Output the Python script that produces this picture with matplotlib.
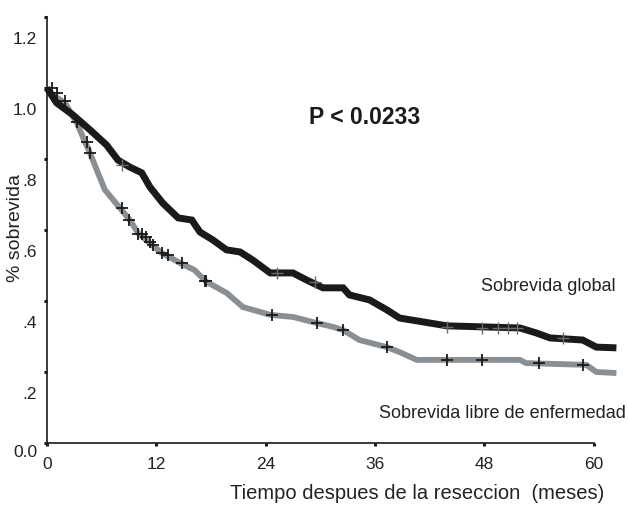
import matplotlib
matplotlib.use("Agg")
import matplotlib.pyplot as plt
import matplotlib.transforms as mtransforms

plt.rcParams["font.family"] = ["Liberation Sans", "DejaVu Sans"]

# --- datos (meses, fraccion de sobrevida) ---
global_t = [0, 1.06, 2.85, 4.72, 6.55, 7.79, 9.1, 10.4, 11.3, 12.7, 14.4, 15.9, 16.8,
            18.2, 19.7, 21.2, 22.6, 24.5, 27.0, 28.5, 30.3, 32.5, 33.2, 35.4, 37.3,
            38.7, 42.0, 43.9, 51.9, 53.7, 55.2, 58.8, 60.3, 62.5]
global_s = [1.0, 0.958, 0.924, 0.882, 0.839, 0.797, 0.777, 0.761, 0.721, 0.676, 0.634,
            0.628, 0.594, 0.572, 0.544, 0.538, 0.515, 0.479, 0.479, 0.459, 0.437,
            0.437, 0.417, 0.403, 0.375, 0.352, 0.338, 0.330, 0.324, 0.310, 0.296,
            0.290, 0.270, 0.268]

libre_t = [0, 0.66, 1.97, 3.29, 4.17, 4.72, 5.59, 6.36, 8.0, 9.1, 9.98, 11.5, 12.6,
           14.6, 16.2, 17.5, 19.7, 21.5, 24.5, 27.0, 29.6, 31.4, 32.5, 34.3, 37.3,
           38.7, 40.6, 51.9, 52.6, 59.2, 60.3, 62.5]
libre_s = [1.0, 0.98, 0.958, 0.901, 0.848, 0.817, 0.761, 0.713, 0.662, 0.628, 0.592,
           0.558, 0.535, 0.507, 0.487, 0.454, 0.423, 0.383, 0.361, 0.355, 0.338,
           0.327, 0.318, 0.290, 0.270, 0.256, 0.234, 0.234, 0.225, 0.220, 0.200,
           0.197]

# casos censurados (+)
cens_libre_t = [0.55, 1.1, 2.0, 3.3, 4.4, 4.7, 8.2, 9.0, 10.0, 10.4, 10.9, 11.3, 11.6,
                12.6, 13.3, 14.8, 17.3, 17.5, 24.7, 29.6, 32.5, 37.3, 43.9, 47.8,
                54.0, 58.8]
cens_libre_s = [1.0, 0.986, 0.963, 0.904, 0.848, 0.817, 0.662, 0.628, 0.589, 0.589,
                0.580, 0.566, 0.558, 0.535, 0.530, 0.507, 0.456, 0.456, 0.361, 0.338,
                0.318, 0.270, 0.234, 0.234, 0.225, 0.220]
cens_global_t = [8.2, 25.2, 29.4, 43.9, 47.8, 49.5, 50.6, 51.6, 56.6]
cens_global_s = [0.783, 0.479, 0.454, 0.327, 0.324, 0.324, 0.324, 0.324, 0.296]

x_ticks = [0, 12, 24, 36, 48, 60]
y_ticks = [0.0, 0.2, 0.4, 0.6, 0.8, 1.0, 1.2]
y_labels = ["0.0", ".2", ".4", ".6", ".8", "1.0", "1.2"]

GRIS = "#8a8f94"
NEGRO = "#1a1a1a"

fig = plt.figure(figsize=(6.28, 5.05), dpi=100)
ax = fig.add_axes([0.0748, 0.1228, 0.914, 0.8436])

ax.plot(libre_t, libre_s, color=GRIS, lw=4.2, solid_capstyle="butt",
        solid_joinstyle="miter", clip_on=False, zorder=2)
ax.plot(global_t, global_s, color=NEGRO, lw=5.0, solid_capstyle="butt",
        solid_joinstyle="miter", clip_on=False, zorder=3)
ax.plot(cens_libre_t, cens_libre_s, ls="none", marker="+", ms=8, mew=1.3,
        color=NEGRO, clip_on=False, zorder=4)
ax.plot(cens_global_t, cens_global_s, ls="none", marker="+", ms=8, mew=1.0,
        color="#6a6a6a", clip_on=False, zorder=4)

ax.set_xlim(0, 63)
ax.set_ylim(0, 1.2)
for s in ("top", "right"):
    ax.spines[s].set_visible(False)
ax.spines["bottom"].set_bounds(0, 60)
ax.spines["left"].set_bounds(0, 1.2)
for s in ("bottom", "left"):
    ax.spines[s].set_linewidth(1.2)
    ax.spines[s].set_color(NEGRO)

ax.set_xticks(x_ticks)
ax.set_xticklabels([str(v) for v in x_ticks])
ax.set_yticks(y_ticks)
ax.set_yticklabels(y_labels)
ax.tick_params(axis="both", direction="out", length=2, width=2.2, colors=NEGRO,
               labelsize=12.5, labelcolor="#222222")
ax.tick_params(axis="x", pad=8)
ax.tick_params(axis="y", pad=5)

# en el original las etiquetas del eje y estan corridas hacia abajo
for lab in ax.get_yticklabels():
    dy = -8 if lab.get_text() == "0.0" else -21
    lab.set_transform(lab.get_transform() +
                      mtransforms.ScaledTranslation(0, dy / 100, fig.dpi_scale_trans))

ax.text(0.553, 0.763, "P < 0.0233", transform=ax.transAxes, fontsize=16.5,
        fontweight="bold", ha="center", va="center", color=NEGRO)
fig.text(0.98, 0.432, "Sobrevida global", fontsize=13, ha="right", va="center",
         color="#222222")
fig.text(0.996, 0.182, "Sobrevida libre de enfermedad", fontsize=13, ha="right",
         va="center", color="#222222")
fig.text(0.024, 0.548, "% sobrevida", fontsize=14, rotation=90, ha="center",
         va="center", color="#222222")
fig.text(0.664, 0.022, "Tiempo despues de la reseccion  (meses)", fontsize=14.5,
         ha="center", va="center", color="#222222")

fig.savefig("out.png", dpi=100)
